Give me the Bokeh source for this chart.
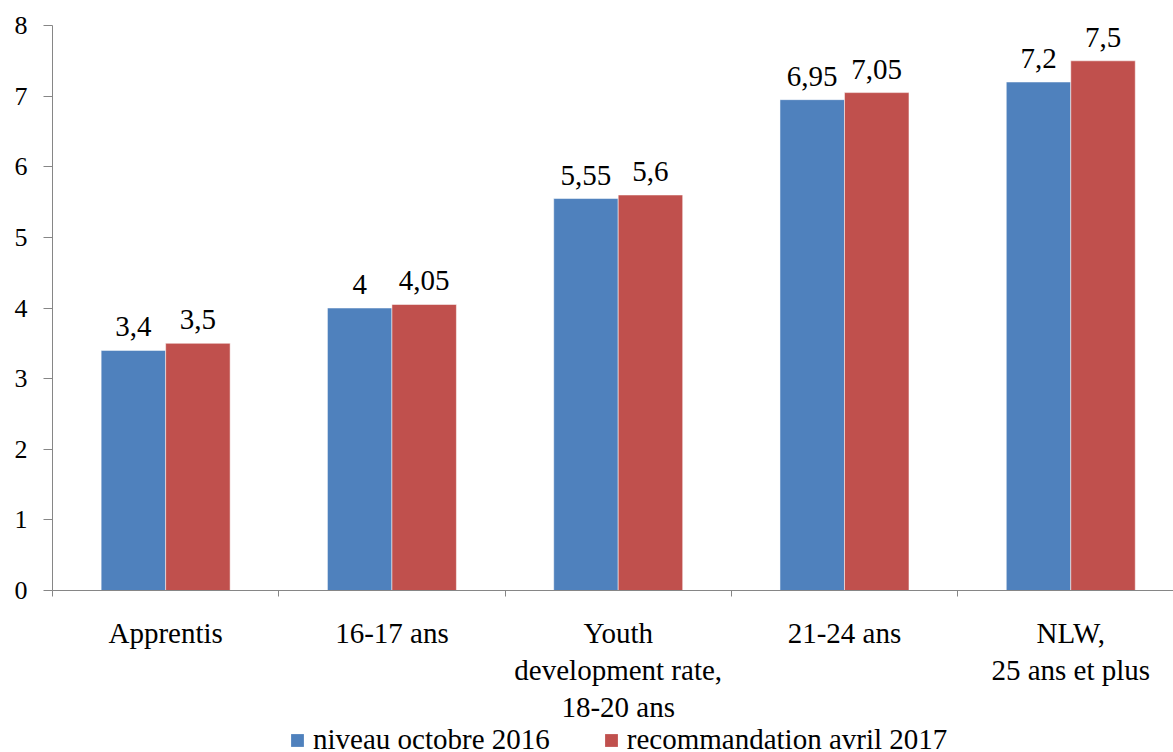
from bokeh.plotting import figure
from bokeh.layouts import column
from bokeh.models import ColumnDataSource, Range1d, FixedTicker, LinearAxis, Legend, LegendItem
from bokeh.core.properties import value
from bokeh.embed import file_html
from bokeh.resources import INLINE

categories = ["Apprentis", "16-17 ans", "Youth\ndevelopment rate,\n18-20 ans", "21-24 ans", "NLW,\n25 ans et plus"]
niveau_2016 = [3.4, 4.0, 5.55, 6.95, 7.2]
recommandation_2017 = [3.5, 4.05, 5.6, 7.05, 7.5]
series_names = ["niveau octobre 2016", "recommandation avril 2017"]
y_ticks = [0, 1, 2, 3, 4, 5, 6, 7, 8]

BLUE = "#4F81BD"
RED = "#C0504D"
FONT = "Liberation Serif"
BW = 0.285

def fmt(v):
    return f"{v:g}".replace(".", ",")

idx = list(range(len(categories)))
src_a = ColumnDataSource(dict(x=[i + 0.5 - BW / 2 for i in idx], y=niveau_2016,
                              lab=[fmt(v) for v in niveau_2016]))
src_b = ColumnDataSource(dict(x=[i + 0.5 + BW / 2 for i in idx], y=recommandation_2017,
                              lab=[fmt(v) for v in recommandation_2017]))

p = figure(width=1173, height=726, output_backend="svg", toolbar_location=None,
           x_range=Range1d(0, 4.954), y_range=Range1d(0, 8),
           x_axis_type=None, y_axis_type=None,
           min_border_left=52, min_border_right=0, min_border_top=25, min_border_bottom=135)
p.outline_line_color = None
p.background_fill_color = "white"
p.border_fill_color = "white"

# y axis
yax = LinearAxis(ticker=FixedTicker(ticks=y_ticks))
yax.axis_line_color = "#868686"
yax.major_tick_line_color = "#868686"
yax.major_tick_in = 0
yax.major_tick_out = 9
yax.minor_tick_line_color = None
yax.major_label_text_font = FONT
yax.major_label_text_font_size = "26px"
yax.major_label_text_color = "black"
yax.major_label_standoff = 16
p.add_layout(yax, "left")

# x axis
xax = LinearAxis(ticker=FixedTicker(ticks=[i + 0.5 for i in idx], minor_ticks=list(range(len(categories) + 1))))
xax.major_label_overrides = {i + 0.5: c for i, c in zip(idx, categories)}
xax.axis_line_color = "#868686"
xax.major_tick_line_color = None
xax.major_tick_in = 0
xax.major_tick_out = 0
xax.minor_tick_line_color = "#868686"
xax.minor_tick_in = 0
xax.minor_tick_out = 6
xax.major_label_text_font = FONT
xax.major_label_text_font_size = "29px"
xax.major_label_text_color = "black"
xax.major_label_text_line_height = 1.17
xax.major_label_standoff = 20
p.add_layout(xax, "below")

p.ygrid.ticker = FixedTicker(ticks=y_ticks[1:])
p.ygrid.grid_line_color = "black"
p.ygrid.grid_line_dash = "5 3"
p.ygrid.grid_line_width = 1
p.xgrid.grid_line_color = None

r1 = p.vbar(x="x", top="y", width=BW, bottom=0, source=src_a, fill_color=BLUE, line_color="#ffffff", line_alpha=0.5, line_width=1)
r2 = p.vbar(x="x", top="y", width=BW, bottom=0, source=src_b, fill_color=RED, line_color="#ffffff", line_alpha=0.5, line_width=1)

for s in (src_a, src_b):
    p.text(x="x", y="y", text="lab", source=s, text_align="center", text_baseline="bottom",
           y_offset=-14, text_font=value(FONT), text_font_size=value("29px"), text_color="black")

# legend strip
lg = figure(width=1173, height=26, output_backend="svg", toolbar_location=None,
            x_range=Range1d(0, 1), y_range=Range1d(0, 1), x_axis_type=None, y_axis_type=None,
            min_border=0)
lg.outline_line_color = None
lg.xgrid.grid_line_color = None
lg.ygrid.grid_line_color = None
lg.background_fill_color = "white"
lg.border_fill_color = "white"
d1 = lg.vbar(x=[0.5], top=[0], bottom=[0], width=0.0, fill_color=BLUE, line_color=None)
d2 = lg.vbar(x=[0.5], top=[0], bottom=[0], width=0.0, fill_color=RED, line_color=None)
legend = Legend(items=[LegendItem(label=series_names[0], renderers=[d1]),
                       LegendItem(label=series_names[1], renderers=[d2])],
                orientation="horizontal", location=(237, -4))
legend.border_line_color = None
legend.background_fill_alpha = 0
legend.padding = 0
legend.margin = 0
legend.spacing = 53
legend.label_standoff = 8
legend.glyph_width = 16
legend.glyph_height = 16
legend.label_text_font = FONT
legend.label_text_font_size = "29px"
legend.label_text_color = "black"
lg.add_layout(legend, "center")

layout = column(p, lg, spacing=0)
open("out.html", "w").write(file_html(layout, INLINE))
